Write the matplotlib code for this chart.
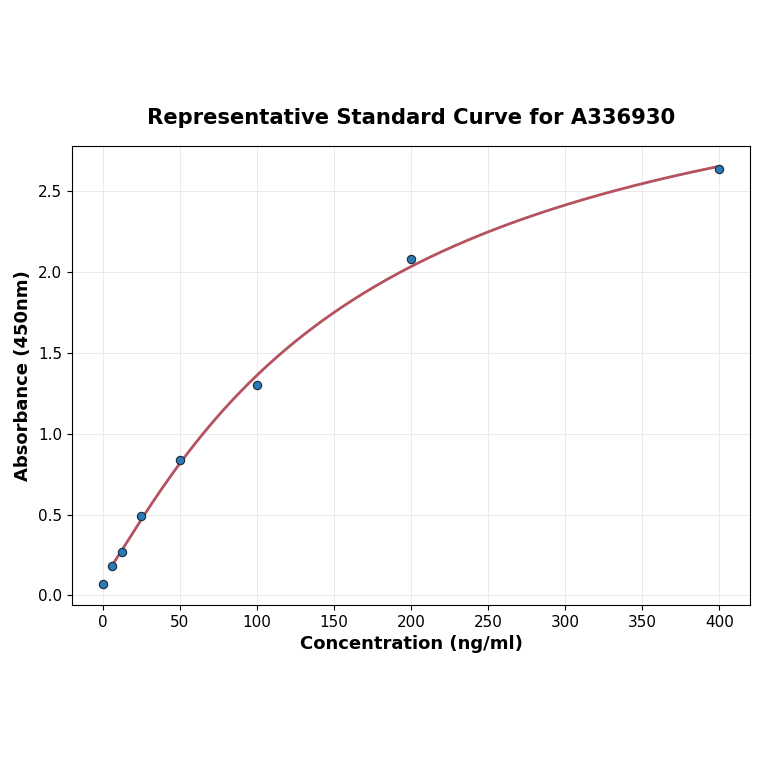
import numpy as np
import matplotlib
matplotlib.use("Agg")
import matplotlib.pyplot as plt

conc = [0, 6.25, 12.5, 25, 50, 100, 200, 400]
absorb = [0.07, 0.18, 0.27, 0.49, 0.84, 1.30, 2.08, 2.64]

# 4PL fit: grid over b, c and linear least squares for a, d
x = np.array(conc[1:], dtype=float)
y = np.array(absorb[1:], dtype=float)
best = None
for b in np.linspace(0.5, 3.0, 126):
    for c in np.geomspace(20, 3000, 300):
        g = 1.0 / (1.0 + (x / c) ** b)
        A = np.column_stack([g, 1 - g])
        coef, *_ = np.linalg.lstsq(A, y, rcond=None)
        err = np.sum((A @ coef - y) ** 2)
        if best is None or err < best[0]:
            best = (err, b, c, coef)
_, b, c, (a, d) = best
xs = np.linspace(6.25, 400, 400)
ys = d + (a - d) / (1 + (xs / c) ** b)

fig = plt.figure(figsize=(7.64, 7.64), dpi=100)
ax = fig.add_axes([0.094, 0.208, 0.888, 0.601])
ax.plot(xs, ys, color="#b5525f", lw=2)
ax.scatter(conc, absorb, s=36, color="#2a7ab5", edgecolors="#1a2a3a", linewidths=0.8, zorder=3)
ax.grid(True, color="#e6e6e6", lw=0.6)
ax.set_axisbelow(True)
ax.set_xlim(-20, 420)
ax.set_ylim(-0.06, 2.78)
ax.set_xticks(np.arange(0, 401, 50))
ax.set_yticks([0.0, 0.5, 1.0, 1.5, 2.0, 2.5])
ax.tick_params(labelsize=11)
ax.set_title("Representative Standard Curve for A336930", fontsize=15.2, fontweight="bold", pad=16)
ax.set_xlabel("Concentration (ng/ml)", fontsize=13, fontweight="bold")
ax.set_ylabel("Absorbance (450nm)", fontsize=13, fontweight="bold")
plt.savefig("out.png", dpi=100)
